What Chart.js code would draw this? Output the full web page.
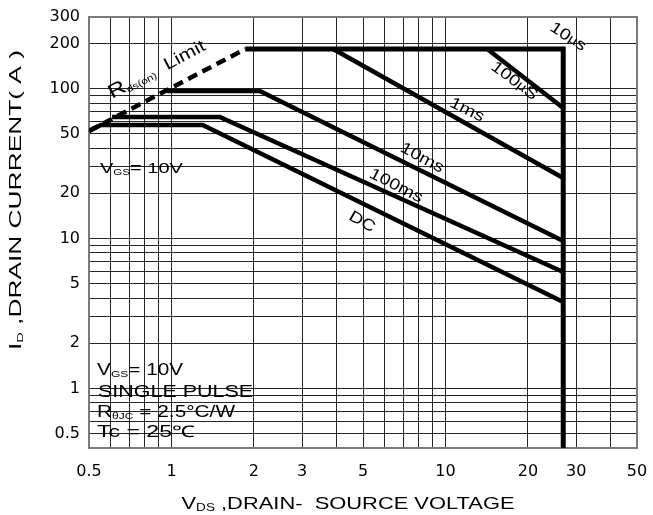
<!DOCTYPE html>
<html><head><meta charset="utf-8">
<script src="https://cdn.jsdelivr.net/npm/chart.js"></script>
<style>html,body{margin:0;padding:0;background:#fff}</style>
</head><body>
<canvas id="c" width="653" height="515"></canvas>
<script>
// Tick labels and grid values
const xTickLabels = [0.5, 1, 2, 3, 5, 10, 20, 30, 50];
const yTickLabels = [0.5, 1, 2, 5, 10, 20, 50, 100, 200, 300];
const xGrid = [0.5, 0.6, 0.7, 0.8, 0.9, 1, 2, 3, 4, 5, 6, 7, 8, 9, 10, 20, 30, 40, 50];
const yGrid = [0.4, 0.5, 0.6, 0.7, 0.8, 0.9, 1, 2, 3, 4, 5, 6, 7, 8, 9, 10, 20, 30, 40, 50, 60, 70, 80, 90, 100, 200, 300];

// Series (VDS in V, ID in A)
const rdsLimitV = [0.5, 1.86];
const rdsLimitI = [52.1, 183.5];
const us10V = [1.86, 26.9, 26.9];
const us10I = [183.5, 183.5, 0.4];
const us100V = [14.2, 26.9];
const us100I = [183.5, 74.1];
const ms1V = [3.89, 26.9];
const ms1I = [183.5, 25.3];
const ms10V = [0.964, 2.10, 26.9];
const ms10I = [96.3, 96.3, 9.62];
const ms100V = [0.607, 1.50, 26.9];
const ms100I = [64.6, 64.6, 5.97];
const dcV = [0.5, 0.553, 1.30, 26.9];
const dcI = [52.1, 57.1, 57.1, 3.77];

const pts = (V, I) => V.map((v, i) => ({x: v, y: I[i]}));
const line = (label, V, I, extra) => Object.assign({
  label, data: pts(V, I), showLine: true, borderColor: '#000', backgroundColor: '#000',
  borderWidth: 4.5, pointRadius: 0, fill: false, tension: 0
}, extra || {});

const FONT = '"Liberation Sans", Arial, sans-serif';

function drawRich(ctx, segs, x, y, o) {
  const size = o.size || 16;
  ctx.save();
  ctx.translate(x, y);
  ctx.rotate((o.angle || 0) * Math.PI / 180);
  let w = 0;
  segs.forEach(s => {
    const fs = s.sub ? size * (s.scale || 0.58) : size * (s.scale || 1);
    s._font = fs + 'px ' + FONT;
    ctx.font = s._font;
    s._w = ctx.measureText(s.t).width;
    w += s._w;
  });
  const sx = o.width ? o.width / w : (o.stretch || 1);
  ctx.scale(sx, 1);
  ctx.fillStyle = '#000';
  ctx.textBaseline = o.baseline || 'alphabetic';
  ctx.textAlign = 'left';
  let cx = o.align === 'center' ? -w / 2 : 0;
  segs.forEach(s => {
    ctx.font = s._font;
    ctx.fillText(s.t, cx, s.sub ? size * 0.12 : 0);
    cx += s._w;
  });
  ctx.restore();
}

const annot = {
  id: 'annot',
  beforeDatasetsDraw(chart) {
    const {ctx, chartArea: a} = chart;
    ctx.save();
    ctx.strokeStyle = '#7a7a7a';
    ctx.lineWidth = 2;
    ctx.strokeRect(a.left, a.top, a.right - a.left, a.bottom - a.top);
    ctx.restore();
  },
  afterDatasetsDraw(chart) {
    const {ctx, chartArea: a, scales: {x, y}} = chart;
    const P = (vx, vy) => [x.getPixelForValue(vx), y.getPixelForValue(vy)];
    let p;
    // Rds(on) limit
    p = P(0.607, 85);
    drawRich(ctx, [{t: 'R', scale: 1.15}, {t: 'ds(on)', sub: true, scale: 0.55}, {t: '  Limit'}], p[0], p[1], {angle: -27.7, width: 107, size: 17});
    // VGS upper
    p = P(0.548, 27.3);
    drawRich(ctx, [{t: 'V'}, {t: 'GS', sub: true}, {t: '= 10V'}], p[0], p[1], {width: 83, size: 15.5});
    // block
    const bx = 0.535;
    p = P(bx, 1.227);
    drawRich(ctx, [{t: 'V'}, {t: 'GS', sub: true}, {t: '= 10V'}], p[0], p[1], {width: 86, size: 16});
    p = P(bx, 0.876);
    drawRich(ctx, [{t: 'SINGLE PULSE'}], p[0] + 1, p[1], {width: 155, size: 16});
    p = P(bx, 0.644);
    drawRich(ctx, [{t: 'R'}, {t: 'θJC', sub: true}, {t: ' = 2.5°C/W'}], p[0], p[1], {width: 138, size: 16});
    p = P(bx, 0.474);
    drawRich(ctx, [{t: 'Tc = 25℃'}], p[0], p[1], {width: 98, size: 16});
    // curve labels
    const cl = [
      [[{t: '10'}, {t: 'µ', scale: 0.8}, {t: 's'}], 28.0, 220.7, 33],
      [[{t: '100'}, {t: 'µ', scale: 0.8}, {t: 'S'}], 17.8, 112.2, 37],
      [[{t: '1ms'}], 11.98, 71.9, 26],
      [[{t: '10ms'}], 8.21, 34.4, 28],
      [[{t: '100ms'}], 6.60, 22.4, 27],
      [[{t: 'DC'}], 4.96, 12.87, 30]
    ];
    cl.forEach(c => {
      const q = P(c[1], c[2]);
      drawRich(ctx, c[0], q[0], q[1], {angle: c[3], align: 'center', baseline: 'middle', stretch: 1.2, size: 16});
    });
    // axis titles
    drawRich(ctx, [{t: 'V'}, {t: 'DS', sub: true, scale: 0.62}, {t: ' ,DRAIN-  SOURCE VOLTAGE'}], 348, a.bottom + 61, {align: 'center', width: 333, size: 17});
    drawRich(ctx, [{t: 'I'}, {t: 'D', sub: true, scale: 0.55}, {t: ' ,DRAIN CURRENT( A )'}], 21, a.top + 183, {angle: -90, align: 'center', width: 300, size: 17});
  }
};

const tickFont = {family: '"DejaVu Sans", sans-serif', size: 16};

new Chart(document.getElementById('c'), {
  type: 'scatter',
  data: {
    datasets: [
      line('Rds(on) Limit', rdsLimitV, rdsLimitI, {borderDash: [10, 6], borderWidth: 4.5}),
      line('10µs', us10V, us10I, {borderWidth: 5}),
      line('100µs', us100V, us100I),
      line('1ms', ms1V, ms1I),
      line('10ms', ms10V, ms10I),
      line('100ms', ms100V, ms100I),
      line('DC', dcV, dcI)
    ]
  },
  options: {
    responsive: false,
    animation: false,
    layout: {autoPadding: false, padding: {top: 17, right: 16, bottom: 0, left: 0}},
    plugins: {legend: {display: false}, tooltip: {enabled: false}},
    scales: {
      x: {
        type: 'logarithmic', min: 0.5, max: 50,
        afterBuildTicks: s => { s.ticks = xGrid.map(v => ({value: v, major: xTickLabels.includes(v)})); },
        afterFit: s => { s.height = 67; s.paddingLeft = 0; s.paddingRight = 0; },
        ticks: {autoSkip: false, maxRotation: 0, padding: 14, color: '#000', font: tickFont,
          callback: v => xTickLabels.includes(v) ? String(v) : ''},
        grid: {color: 'rgba(0,0,0,0.85)', lineWidth: 1, drawTicks: false},
        border: {display: false}
      },
      y: {
        type: 'logarithmic', min: 0.4, max: 300,
        afterBuildTicks: s => { s.ticks = yGrid.map(v => ({value: v, major: yTickLabels.includes(v)})); },
        afterFit: s => { s.width = 89; s.paddingTop = 0; s.paddingBottom = 0; },
        ticks: {autoSkip: false, padding: 9, color: '#000', font: tickFont,
          callback: v => yTickLabels.includes(v) ? String(v) : ''},
        grid: {color: 'rgba(0,0,0,0.85)', lineWidth: 1, drawTicks: false},
        border: {display: false}
      }
    }
  },
  plugins: [annot]
});
</script>
</body></html>
